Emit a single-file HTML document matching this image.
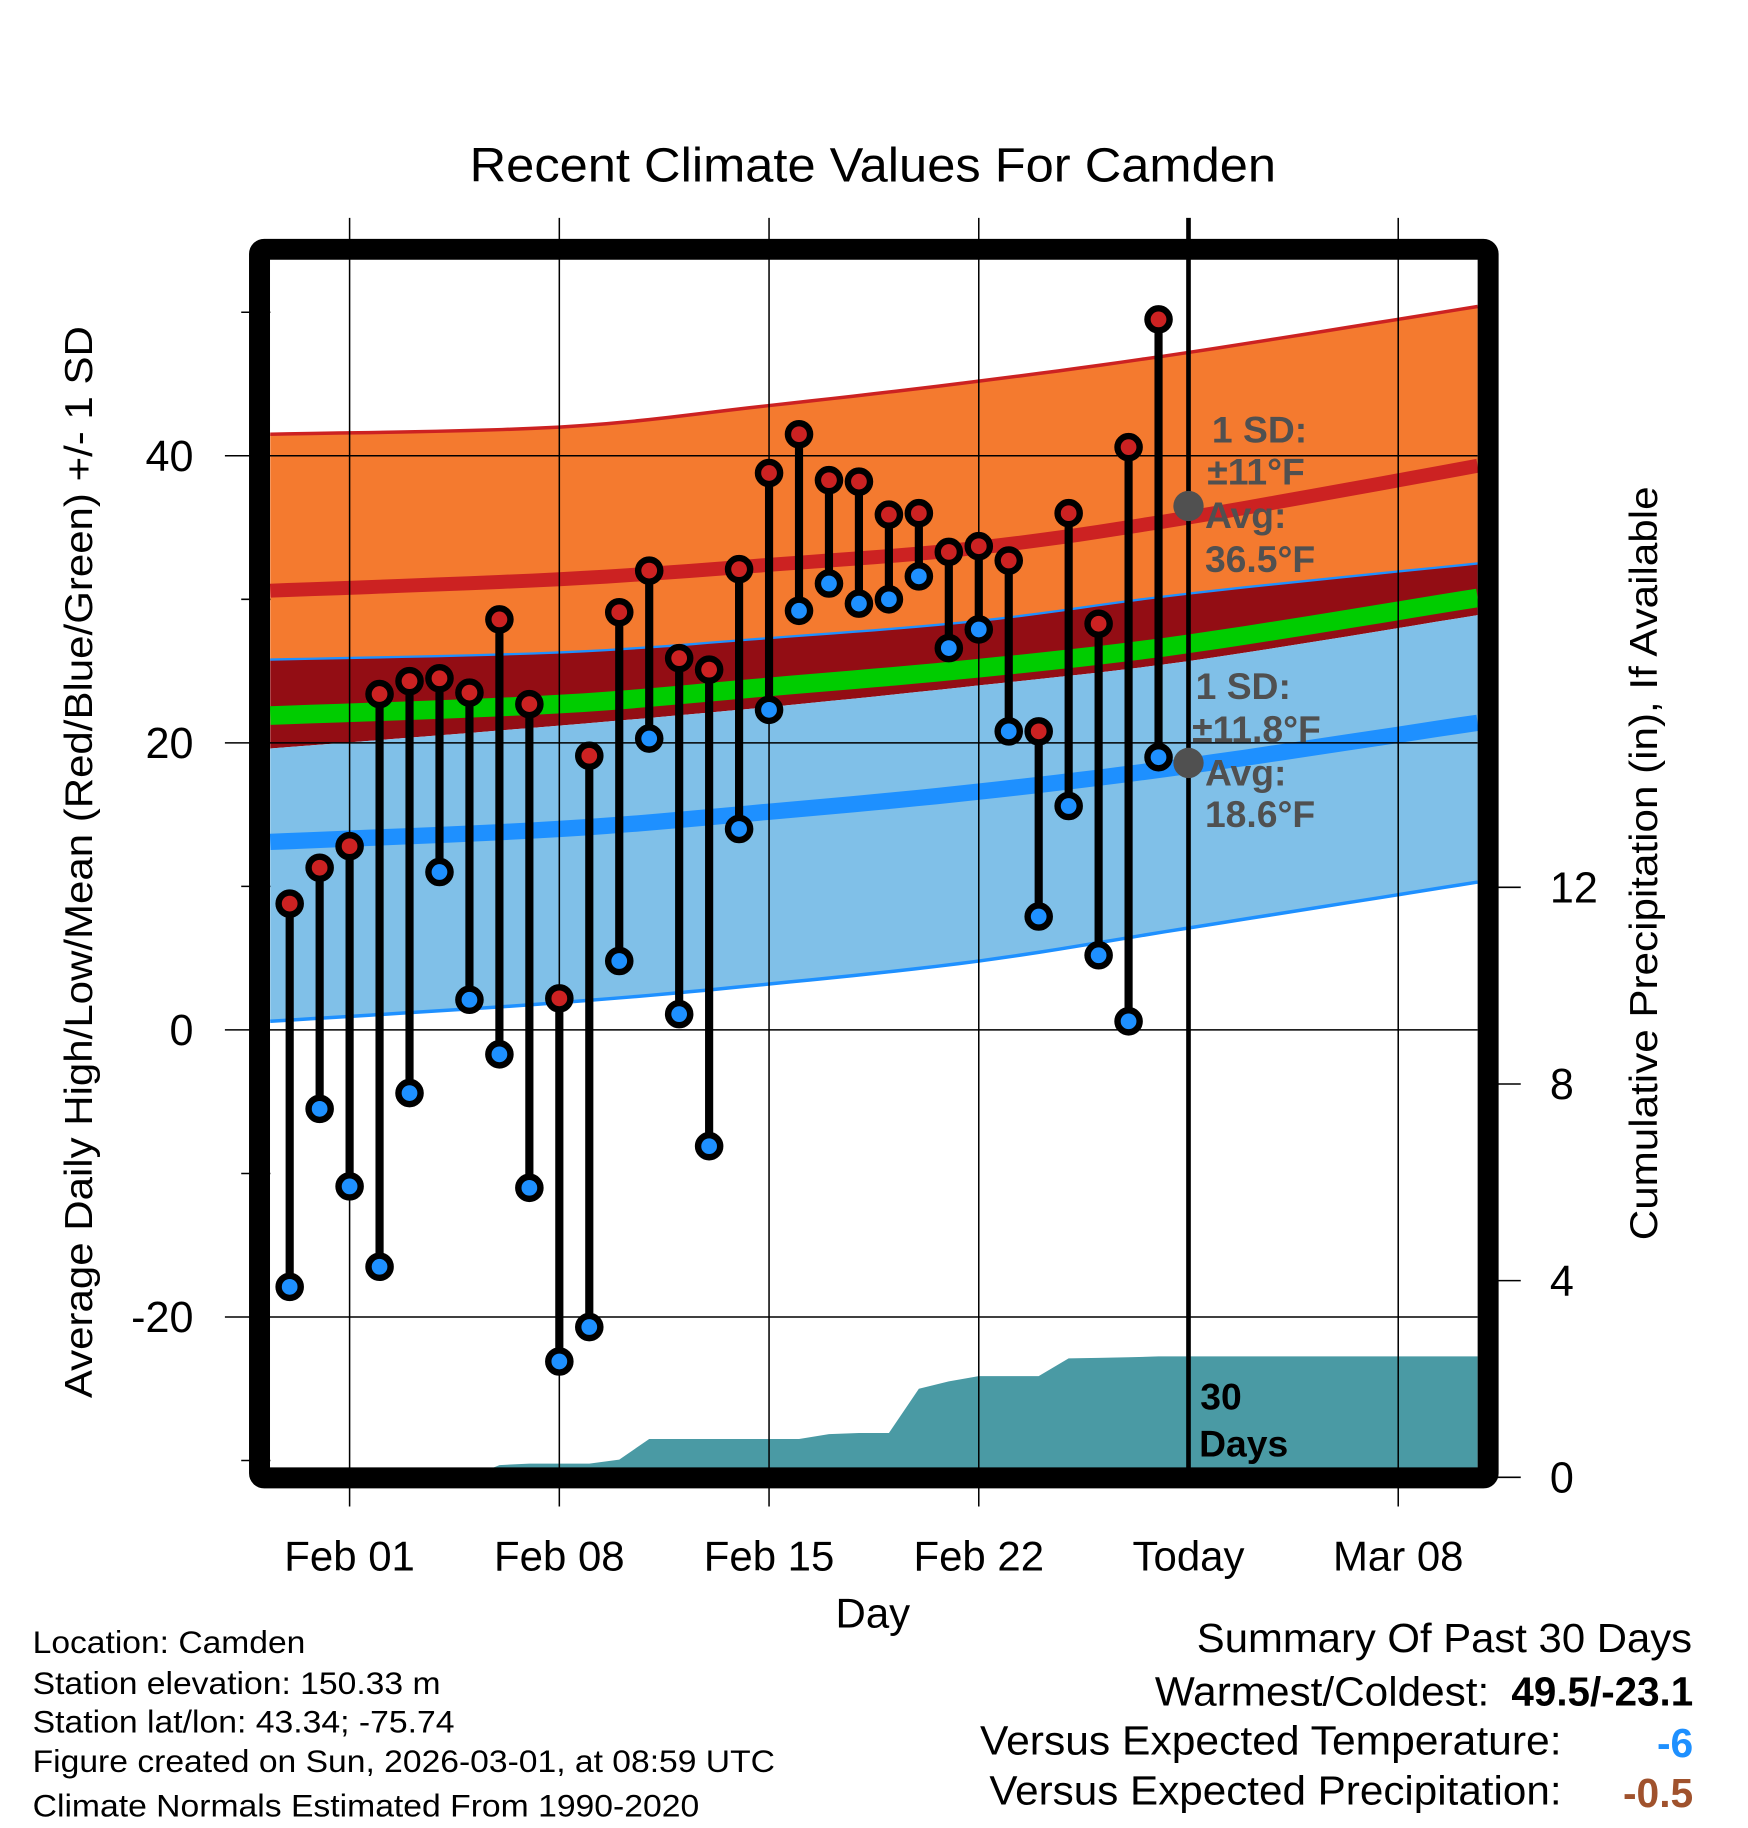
<!DOCTYPE html>
<html><head><meta charset="utf-8"><style>
html,body{margin:0;padding:0;background:#fff}
svg{display:block}
text{font-family:"Liberation Sans",Arial,sans-serif}
</style></head><body>
<svg id="chart" width="1748" height="1828" viewBox="0 0 1500 1569" preserveAspectRatio="none" xmlns="http://www.w3.org/2000/svg">
<g id="bands"></g>
<g id="precip"></g>
<g id="grid"></g>
<g id="marks"></g>
<g id="frame"></g>
<g id="labels"></g>
</svg>
<script>
const highs=[8.8,11.3,12.8,23.4,24.3,24.5,23.5,28.6,22.7,2.2,19.1,29.1,32.0,25.9,25.1,32.1,38.8,41.5,38.3,38.2,35.9,36.0,33.3,33.7,32.7,20.8,36.0,28.3,40.6,49.5];
const lows=[-17.9,-5.5,-10.9,-16.5,-4.4,11.0,2.1,-1.7,-11.0,-23.1,-20.7,4.8,20.3,1.1,-8.1,14.0,22.3,29.2,31.1,29.7,30.0,31.6,26.6,27.9,20.8,7.9,15.6,5.2,0.6,19.0];
const precipCum=[0,0,0,0,0,0,0,0.25,0.28,0.28,0.28,0.36,0.78,0.78,0.78,0.78,0.78,0.78,0.88,0.9,0.9,1.8,1.95,2.06,2.06,2.06,2.42,2.43,2.44,2.46];
const normDays=[-2.65,7,14,21,28,37.65];
const hiSdTop=[41.5,42.0,43.5,45.2,47.2,50.4];
const avgHigh=[30.6,31.4,32.4,33.6,35.7,39.3];
const hiSdBot=[25.8,26.3,27.3,28.5,30.4,32.5];
const meanT=[21.9,22.7,23.9,25.2,26.9,30.1];
const loSdTop=[19.6,21.2,22.5,24.0,25.7,28.9];
const avgLow=[13.1,14.0,15.2,16.6,18.4,21.4];
const loSdBot=[0.6,1.9,3.2,4.8,7.1,10.3];
const yTicks=[40,20,0,-20];
const yMinor=[50,30,10,-10,-30];
const pTicks=[0,4,8,12];
const xTickDays=[0,7,14,21,28,35];
const xTickLabels=["Feb 01","Feb 08","Feb 15","Feb 22","Today","Mar 08"];
const firstDay=-2;

const L=232,R=1268,T=223,B=1260;
const x=d=>300+25.71*d;
const y=t=>884-12.32*t;
const yp=p=>1268-42.2*p;
const NS="http://www.w3.org/2000/svg";
function mk(tag,attrs,parent){const e=document.createElementNS(NS,tag);for(const k in attrs)e.setAttribute(k,attrs[k]);parent.appendChild(e);return e;}
const bands=document.getElementById('bands');
// smooth (Catmull-Rom) sampling of the normal curves
function sample(arr){
  const out=[];const n=normDays.length;
  for(let i=0;i<n-1;i++){
    const p0=[normDays[Math.max(i-1,0)],arr[Math.max(i-1,0)]],p1=[normDays[i],arr[i]],p2=[normDays[i+1],arr[i+1]],p3=[normDays[Math.min(i+2,n-1)],arr[Math.min(i+2,n-1)]];
    for(let s=0;s<10;s++){const t=s/10,t2=t*t,t3=t2*t;
      const f=(a,b,c,d)=>0.5*(2*b+(-a+c)*t+(2*a-5*b+4*c-d)*t2+(-a+3*b-3*c+d)*t3);
      out.push(x(f(p0[0],p1[0],p2[0],p3[0])).toFixed(1)+","+y(f(p0[1],p1[1],p2[1],p3[1])).toFixed(1));}
  }
  out.push(x(normDays[n-1]).toFixed(1)+","+y(arr[n-1]).toFixed(1));
  return out;
}
function band(top,bot,fill,name){
  const p=mk('polygon',{points:sample(top).concat(sample(bot).reverse()).join(' '),fill:fill},bands);
  
  
}
function line(arr,col,w,name){
  const p=mk('polyline',{points:sample(arr).join(' '),fill:'none',stroke:col,'stroke-width':w},bands);
  
  
}
band(hiSdTop,hiSdBot,'#F47A2F','high-sd-band');
band(hiSdBot,loSdTop,'#930D14','mean-band');
band(loSdTop,loSdBot,'#80C0E8','low-sd-band');
line(hiSdTop,'#CC2222',3,'high-sd-top-line');
line(avgHigh,'#CC2222',12,'avg-high-line');
line(hiSdBot,'#1E90FF',2,'high-sd-bottom-line');
line(meanT,'#00CC00',16,'mean-line');
line(avgLow,'#1E90FF',14,'avg-low-line');
line(loSdBot,'#1E90FF',3,'low-sd-bottom-line');

const pg=document.getElementById('precip');
let pp=[L+","+B, L+","+yp(precipCum[0])];
precipCum.forEach((v,i)=>pp.push(x(firstDay+i).toFixed(1)+","+yp(v).toFixed(1)));
pp.push(R+","+yp(precipCum[precipCum.length-1]).toFixed(1));pp.push(R+","+B);
const pa=mk('polygon',{points:pp.join(' '),fill:'#4A9AA4'},pg);



const g=document.getElementById('grid');
yTicks.forEach(t=>{
  const l=mk('line',{x1:193,x2:R,y1:y(t),y2:y(t),stroke:'#000','stroke-width':1.3},g);
  
  
});
yMinor.forEach(t=>{
  const l=mk('line',{x1:207,x2:L,y1:y(t),y2:y(t),stroke:'#000','stroke-width':1.3},g);
  
  
});
pTicks.forEach(p=>{
  const l=mk('line',{x1:1280,x2:1305,y1:yp(p),y2:yp(p),stroke:'#000','stroke-width':1.3},g);
  
  
});
xTickDays.forEach((d,i)=>{
  const today=xTickLabels[i]==='Today';
  const l=mk('line',{x1:x(d),x2:x(d),y1:187,y2:today?B:1293,stroke:'#000','stroke-width':today?4:1.3},g);
  
  
});

const m=document.getElementById('marks');
highs.forEach((h,i)=>{
  const cx=x(firstDay+i);
  const s=mk('line',{x1:cx,x2:cx,y1:y(h),y2:y(lows[i]),stroke:'#000','stroke-width':7},m);
  
  
});
highs.forEach((h,i)=>{
  const cx=x(firstDay+i);
  const a=mk('circle',{cx:cx,cy:y(h),r:9.5,fill:'#CC2222',stroke:'#000','stroke-width':5.5},m);
  
  
  const b=mk('circle',{cx:cx,cy:y(lows[i]),r:9.5,fill:'#1E90FF',stroke:'#000','stroke-width':5.5},m);
  
  
});
const todayX=x(28);
const d1=mk('circle',{cx:todayX,cy:y(36.5),r:13,fill:'#505050'},m);


const d2=mk('circle',{cx:todayX,cy:y(18.6),r:13,fill:'#505050'},m);



const f=document.getElementById('frame');
const fr=mk('rect',{x:222.7,y:214,width:1054.3,height:1054.5,fill:'none',stroke:'#000','stroke-width':18,rx:4},f);



const lb=document.getElementById('labels');
function txt(s,a,name,len){const e=mk('text',a,lb);e.textContent=s;if(len){e.setAttribute('textLength',len);e.setAttribute('lengthAdjust','spacingAndGlyphs');}return e;}
txt('Recent Climate Values For Camden',{x:749,y:156,'font-size':41,'text-anchor':'middle'},'chart-title',692);
yTicks.forEach(t=>txt(String(t),{x:166,y:y(t)+13,'font-size':37,'text-anchor':'end'},'y-tick-label'));
pTicks.forEach(p=>txt(String(p),{x:1330,y:yp(p)+13,'font-size':37,'text-anchor':'start'},'precip-tick-label'));
xTickDays.forEach((d,i)=>txt(xTickLabels[i],{x:x(d),y:1348,'font-size':36,'text-anchor':'middle'},'x-tick-label'));
txt('Day',{x:749,y:1397,'font-size':36,'text-anchor':'middle'},'x-axis-title');
txt('Average Daily High/Low/Mean (Red/Blue/Green) +/- 1 SD',{x:0,y:0,'font-size':33,'text-anchor':'middle',transform:'translate(79,740) rotate(-90)'},'y-axis-title',920);
txt('Cumulative Precipitation (in), If Available',{x:0,y:0,'font-size':33,'text-anchor':'middle',transform:'translate(1422,741) rotate(-90)'},'precip-axis-title',647);
const ann=[['1 SD:',1040,380],['\u00b111\u00b0F',1036,416],['Avg:',1034,453],['36.5\u00b0F',1034,491],['1 SD:',1026,600],['\u00b111.8\u00b0F',1023,637],['Avg:',1034,674],['18.6\u00b0F',1034,710]];
ann.forEach(a=>txt(a[0],{x:a[1],y:a[2],'font-size':32,'font-weight':'bold',fill:'#505050'},'normal-annotation'));
txt('30',{x:1030,y:1210,'font-size':32,'font-weight':'bold'},'days-label');
txt('Days',{x:1029,y:1250,'font-size':32,'font-weight':'bold'},'days-label');
const info=['Location: Camden','Station elevation: 150.33 m','Station lat/lon: 43.34; -75.74','Figure created on Sun, 2026-03-01, at 08:59 UTC','Climate Normals Estimated From 1990-2020'];
const infoLen=[234,350,362,637,572];
const iy=[1419,1454,1487,1521,1559];
info.forEach((s,i)=>txt(s,{x:28,y:iy[i],'font-size':27},'station-info',infoLen[i]));
txt('Summary Of Past 30 Days',{x:1452,y:1418,'font-size':35,'text-anchor':'end'},'summary-title',425);
txt('Warmest/Coldest:',{x:1278,y:1464,'font-size':35,'text-anchor':'end'},'summary-label',287);
txt('49.5/-23.1',{x:1453,y:1464,'font-size':35,'font-weight':'bold','text-anchor':'end'},'summary-extremes',156);
txt('Versus Expected Temperature:',{x:1340,y:1506,'font-size':35,'text-anchor':'end'},'summary-label',499);
txt('-6',{x:1453,y:1508,'font-size':35,'font-weight':'bold',fill:'#1E90FF','text-anchor':'end'},'temp-anomaly');
txt('Versus Expected Precipitation:',{x:1340,y:1549,'font-size':35,'text-anchor':'end'},'summary-label',491);
txt('-0.5',{x:1453,y:1551,'font-size':35,'font-weight':'bold',fill:'#A0522D','text-anchor':'end'},'precip-anomaly');
</script>
</body></html>
